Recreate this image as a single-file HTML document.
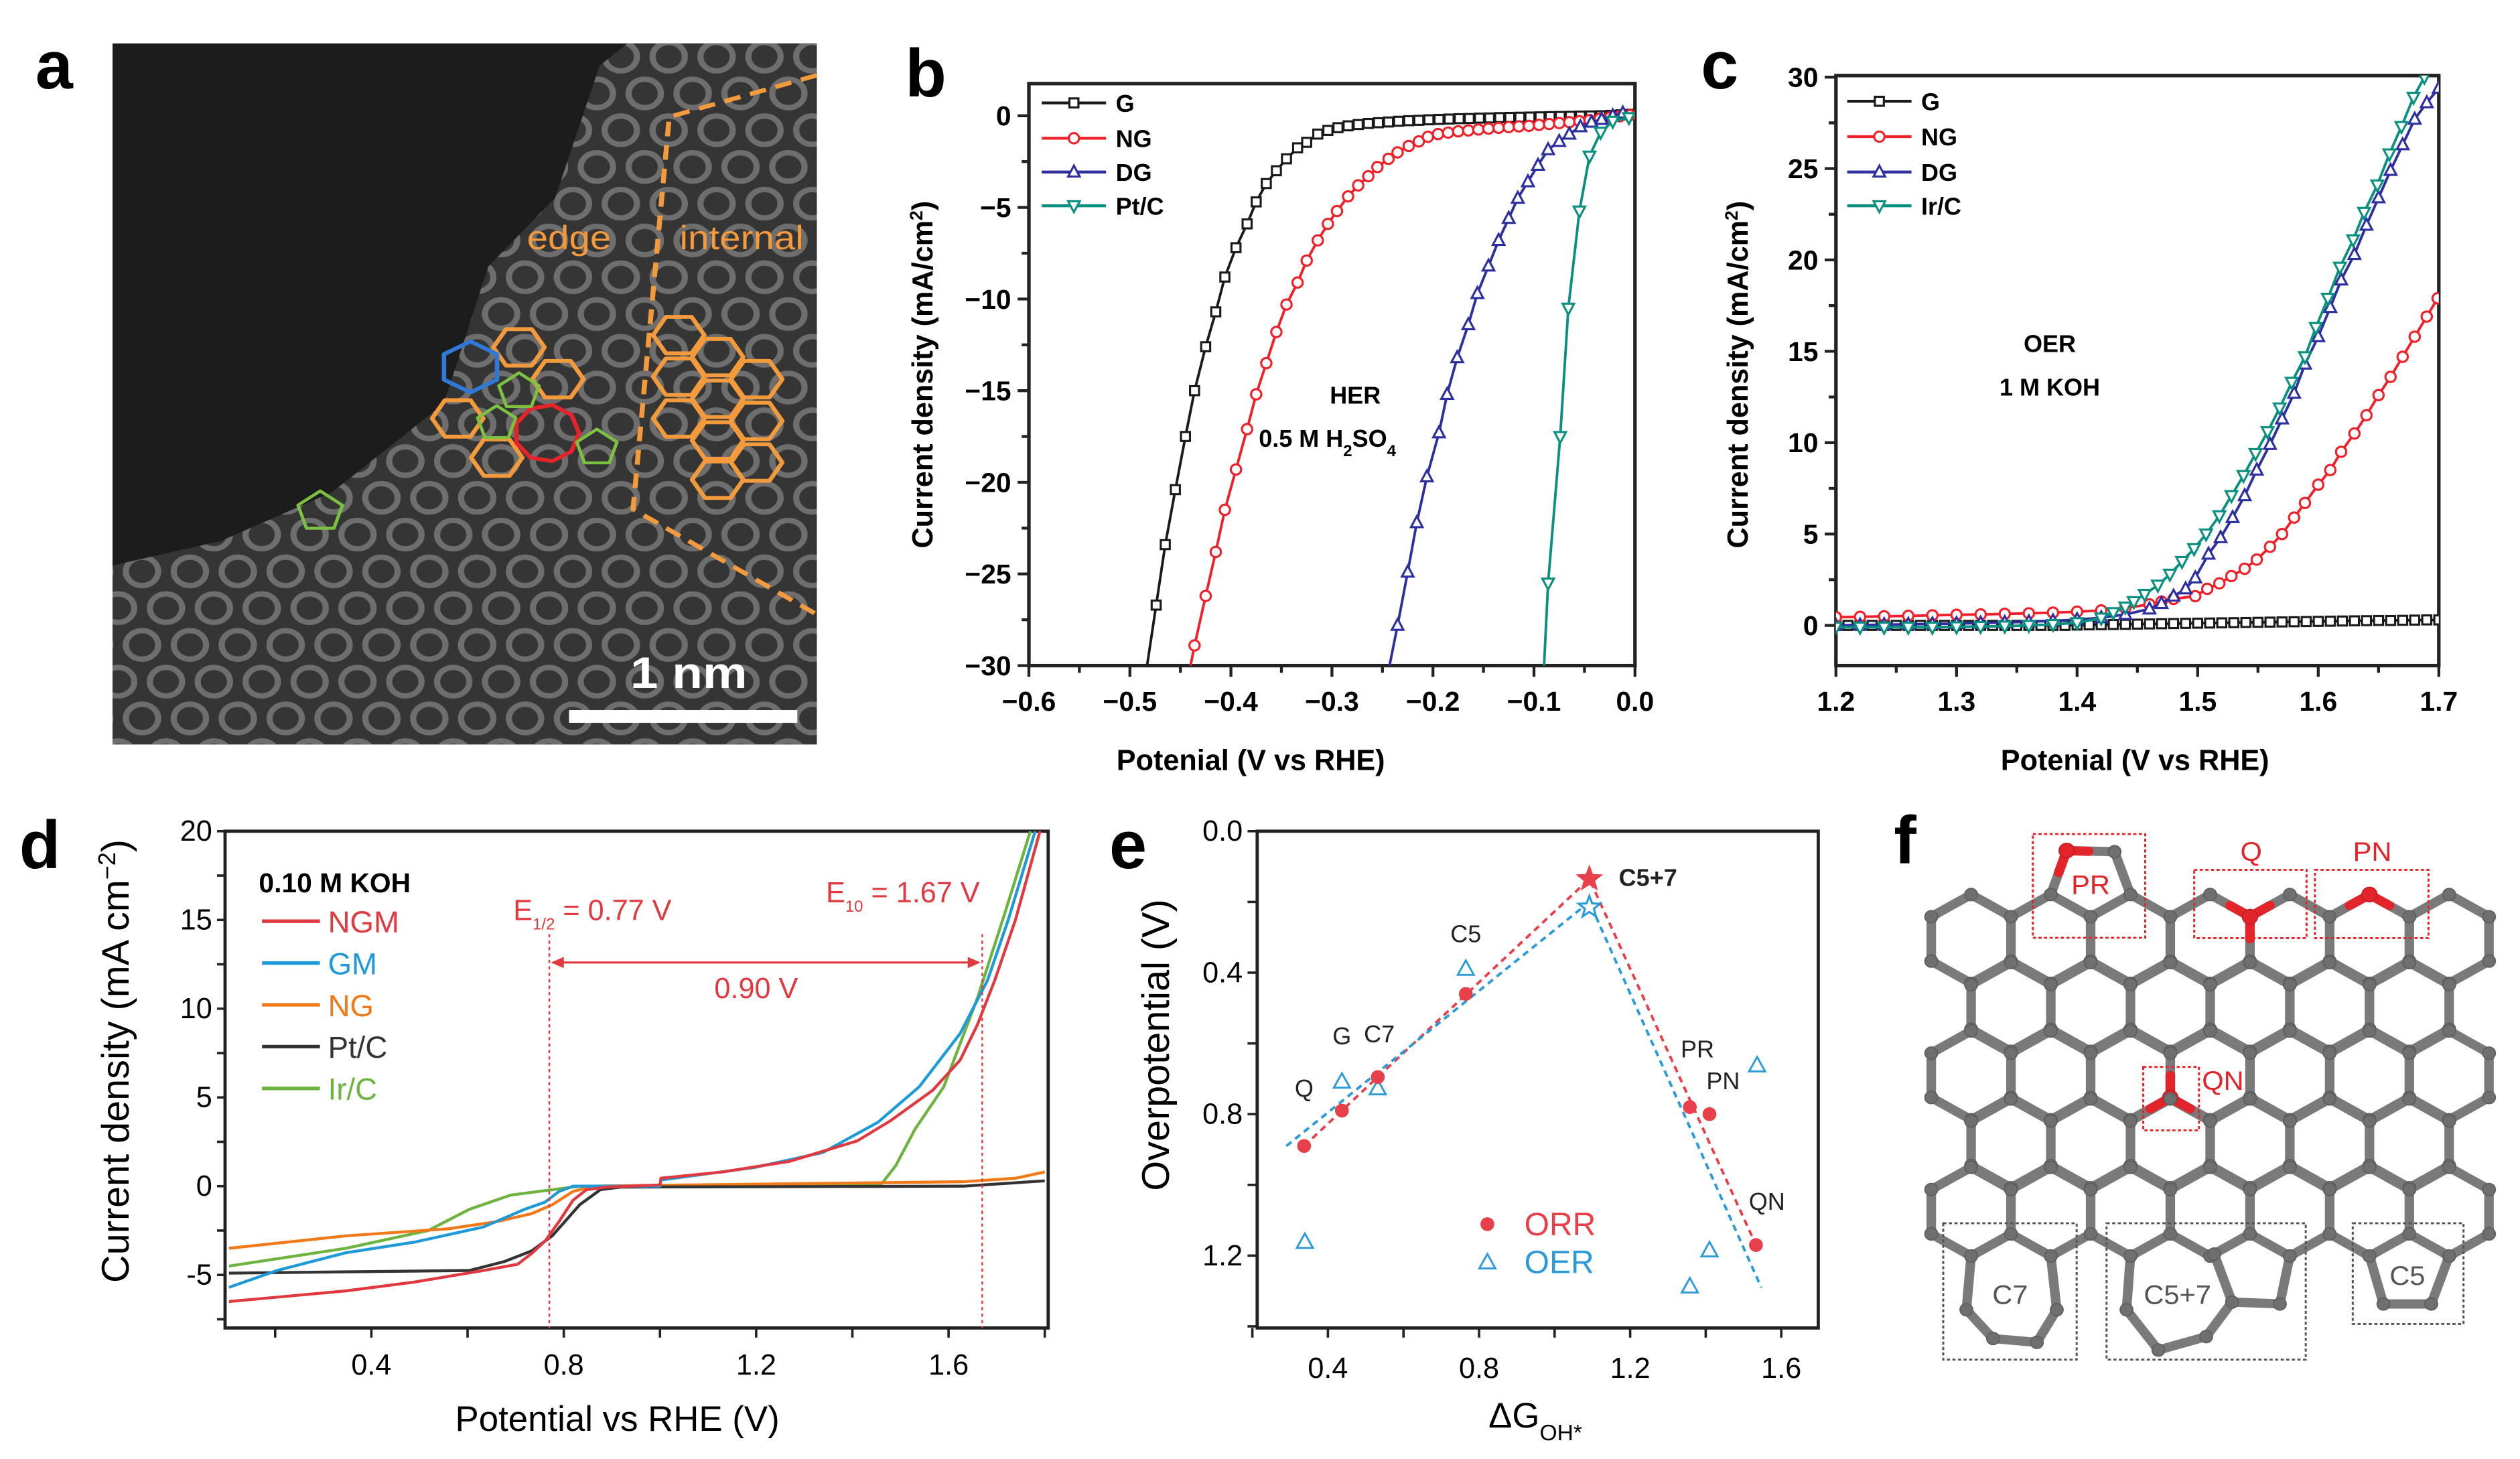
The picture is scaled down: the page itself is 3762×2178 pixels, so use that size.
<!DOCTYPE html>
<html><head><meta charset="utf-8"><title>Figure</title>
<style>
html,body{margin:0;padding:0;background:#fff;}
svg{display:block;}
text{font-family:"Liberation Sans",sans-serif;}
.bold{font-weight:bold;}
.nar{font-family:"Liberation Sans Narrow","Liberation Sans",sans-serif;}
</style></head>
<body>
<svg id="fig" xmlns="http://www.w3.org/2000/svg" width="3762" height="2178" viewBox="0 0 1567.5 907.5">
<defs>
<pattern id="lat" patternUnits="userSpaceOnUse" width="86" height="150">
<circle cx="43" cy="37" r="29" fill="none" stroke="#8e8e8e" stroke-width="11" opacity="0.65"/>
<circle cx="0" cy="112" r="29" fill="none" stroke="#8e8e8e" stroke-width="11" opacity="0.65"/>
<circle cx="86" cy="112" r="29" fill="none" stroke="#8e8e8e" stroke-width="11" opacity="0.65"/>
</pattern>
<clipPath id="clipb"><rect x="640" y="52" width="377" height="362"/></clipPath>
<clipPath id="clipc"><rect x="1142" y="47" width="375" height="367"/></clipPath>
<clipPath id="clipd"><rect x="140" y="517" width="512" height="309"/></clipPath>
</defs>

<!-- Panel a -->
<text x="22" y="55" font-size="42" class="bold">a</text>
<g transform="translate(-1.0,1.09) scale(0.3463,0.3049)">
<rect x="205" y="85" width="1265" height="1430" fill="#1c1c1c"/>
<polygon points="205,1150 400,1100 600,1000 800,820 880,540 1000,400 1080,130 1130,85 1470,85 1470,1515 205,1515" fill="#353535"/>
<polygon points="205,1150 400,1100 600,1000 800,820 880,540 1000,400 1080,130 1130,85 1470,85 1470,1515 205,1515" fill="url(#lat)"/>
<polyline points="1470,150 1205,235 1140,1035 1470,1250" fill="none" stroke="#f39a3c" stroke-width="9" stroke-dasharray="30,18"/>
<g id="ahex"></g>
<text x="1025" y="505" font-size="68" fill="#f39a3c" text-anchor="middle">edge</text>
<text x="1335" y="505" font-size="68" fill="#f39a3c" text-anchor="middle">internal</text>
<rect x="1025" y="1445" width="410" height="26" fill="#fff"/>
<text x="1240" y="1400" font-size="90" fill="#fff" class="bold" text-anchor="middle">1 nm</text>
</g>

<!-- Panel b -->
<text x="563" y="60" font-size="42" class="bold">b</text>
<g id="pb"></g>
<text x="778" y="479" font-size="18" class="bold" text-anchor="middle">Potenial (V vs RHE)</text>
<text transform="translate(580,233) rotate(-90)" font-size="18" class="bold" text-anchor="middle">Current density (mA/cm<tspan baseline-shift="super" font-size="11">2</tspan>)</text>
<text x="843" y="251" font-size="15" class="bold" text-anchor="middle">HER</text>
<text x="783" y="278" font-size="15" class="bold">0.5 M H<tspan baseline-shift="sub" font-size="10">2</tspan>SO<tspan baseline-shift="sub" font-size="10">4</tspan></text>

<!-- Panel c -->
<text x="1058" y="55" font-size="42" class="bold">c</text>
<g id="pc"></g>
<text x="1328" y="479" font-size="18" class="bold" text-anchor="middle">Potenial (V vs RHE)</text>
<text transform="translate(1087,233) rotate(-90)" font-size="18" class="bold" text-anchor="middle">Current density (mA/cm<tspan baseline-shift="super" font-size="11">2</tspan>)</text>
<text x="1275" y="219" font-size="15" class="bold" text-anchor="middle">OER</text>
<text x="1275" y="246" font-size="15" class="bold" text-anchor="middle">1 M KOH</text>

<!-- Panel d -->
<text x="12" y="540" font-size="42" class="bold">d</text>
<g id="pd"></g>
<text x="384" y="890" font-size="22" class="nar" text-anchor="middle">Potential vs RHE (V)</text>
<text transform="translate(80,660) rotate(-90)" font-size="24" class="nar" text-anchor="middle">Current density (mA cm<tspan baseline-shift="super" font-size="15">−2</tspan>)</text>

<!-- Panel e -->
<text x="690" y="540" font-size="42" class="bold">e</text>
<g id="pe"></g>
<text x="955" y="888" font-size="22" class="nar" text-anchor="middle">ΔG<tspan baseline-shift="sub" font-size="14">OH*</tspan></text>
<text transform="translate(727,650) rotate(-90)" font-size="24" class="nar" text-anchor="middle">Overpotential (V)</text>

<!-- Panel f -->
<text x="1178" y="537" font-size="42" class="bold">f</text>
<g id="pf" transform="translate(1179,492) scale(0.2478,0.239)"></g>
</svg>

<script>
const NS='http://www.w3.org/2000/svg';
function mk(parent,tag,attrs){const e=document.createElementNS(NS,tag);for(const k in attrs)e.setAttribute(k,attrs[k]);parent.appendChild(e);return e;}
function tx(parent,x,y,str,attrs){const e=mk(parent,'text',Object.assign({x:x,y:y},attrs));e.textContent=str;return e;}

/* ===== Panel b data (HER) ===== */
const bG_x=[-0.483,-0.474,-0.465,-0.455,-0.445,-0.436,-0.425,-0.415,-0.406,-0.395,-0.384,-0.375,-0.365,-0.355,-0.345,-0.334,-0.325,-0.314,-0.304,-0.294,-0.284,-0.274,-0.264,-0.254,-0.244,-0.234,-0.224,-0.214,-0.204,-0.194,-0.184,-0.174,-0.164,-0.154,-0.144,-0.134,-0.124,-0.114,-0.104,-0.094,-0.084,-0.074,-0.064,-0.054,-0.044,-0.034,-0.024,-0.014,-0.004];
const bG_y=[-30,-26.7,-23.4,-20.4,-17.5,-15.0,-12.6,-10.7,-8.8,-7.2,-5.9,-4.7,-3.7,-3.0,-2.35,-1.75,-1.45,-1.0,-0.8,-0.65,-0.55,-0.48,-0.42,-0.38,-0.34,-0.3,-0.27,-0.25,-0.22,-0.2,-0.18,-0.16,-0.15,-0.13,-0.12,-0.1,-0.09,-0.08,-0.07,-0.06,-0.05,-0.04,-0.03,-0.02,-0.01,0.0,0.02,0.05,0.08];
const bNG_x=[-0.44,-0.436,-0.425,-0.415,-0.406,-0.395,-0.384,-0.375,-0.365,-0.355,-0.345,-0.334,-0.325,-0.314,-0.304,-0.295,-0.284,-0.274,-0.264,-0.255,-0.244,-0.235,-0.224,-0.214,-0.205,-0.195,-0.185,-0.175,-0.165,-0.155,-0.145,-0.135,-0.125,-0.115,-0.105,-0.095,-0.085,-0.075,-0.065,-0.055,-0.045,-0.035,-0.025,-0.015,-0.005];
const bNG_y=[-30,-28.9,-26.2,-23.8,-21.5,-19.3,-17.1,-15.2,-13.5,-11.8,-10.3,-9.1,-7.9,-6.8,-5.9,-5.2,-4.4,-3.8,-3.3,-2.8,-2.35,-2.0,-1.65,-1.4,-1.15,-1.0,-0.92,-0.85,-0.8,-0.75,-0.7,-0.66,-0.62,-0.58,-0.55,-0.5,-0.45,-0.4,-0.35,-0.3,-0.24,-0.17,-0.1,-0.03,0.03];
const bDG_x=[-0.243,-0.235,-0.225,-0.216,-0.206,-0.194,-0.186,-0.176,-0.165,-0.156,-0.145,-0.135,-0.125,-0.116,-0.106,-0.096,-0.086,-0.075,-0.065,-0.054,-0.043,-0.033,-0.022,-0.012];
const bDG_y=[-30,-27.8,-24.9,-22.2,-19.7,-17.3,-15.2,-13.2,-11.4,-9.7,-8.2,-6.8,-5.6,-4.5,-3.6,-2.7,-1.85,-1.4,-1.0,-0.6,-0.35,-0.2,0.0,0.15];
const bPt_x=[-0.09,-0.086,-0.074,-0.066,-0.055,-0.045,-0.034,-0.022,-0.006];
const bPt_y=[-30,-25.5,-17.5,-10.5,-5.2,-2.2,-0.9,-0.3,-0.1];
const bXTicks=[-0.6,-0.5,-0.4,-0.3,-0.2,-0.1,0.0];
const bXTickLabels=['−0.6','−0.5','−0.4','−0.3','−0.2','−0.1','0.0'];
const bYTicks=[0,-5,-10,-15,-20,-25,-30];
const bYTickLabels=['0','−5','−10','−15','−20','−25','−30'];
const bLegend=['G','NG','DG','Pt/C'];

/* ===== Panel c data (OER) ===== */
const cG_x=[1.20,1.21,1.22,1.23,1.24,1.25,1.26,1.27,1.28,1.29,1.30,1.31,1.32,1.33,1.34,1.35,1.36,1.37,1.38,1.39,1.40,1.41,1.42,1.43,1.44,1.45,1.46,1.47,1.48,1.49,1.50,1.51,1.52,1.53,1.54,1.55,1.56,1.57,1.58,1.59,1.60,1.61,1.62,1.63,1.64,1.65,1.66,1.67,1.68,1.69,1.70];
const cG_y=[0,0,0,0,0,0,0,0,0,0,0,0,0,0,0,0,0,0,0,0,0.02,0.03,0.04,0.05,0.06,0.07,0.08,0.09,0.1,0.11,0.12,0.13,0.14,0.15,0.16,0.17,0.18,0.19,0.2,0.21,0.22,0.23,0.24,0.25,0.26,0.27,0.27,0.28,0.29,0.3,0.3];
const cNG_x=[1.20,1.22,1.24,1.26,1.28,1.30,1.32,1.34,1.36,1.38,1.40,1.42,1.44,1.46,1.47,1.48,1.498,1.508,1.518,1.528,1.539,1.549,1.560,1.570,1.580,1.589,1.600,1.610,1.619,1.630,1.640,1.650,1.660,1.670,1.680,1.690,1.699];
const cNG_y=[0.45,0.47,0.5,0.52,0.55,0.58,0.6,0.63,0.66,0.7,0.75,0.82,0.95,1.15,1.3,1.45,1.6,2.0,2.3,2.7,3.1,3.6,4.3,5.0,5.9,6.7,7.7,8.5,9.5,10.5,11.5,12.6,13.6,14.7,15.8,16.9,17.9];
const cDG_x=[1.20,1.22,1.24,1.26,1.28,1.30,1.32,1.34,1.36,1.38,1.40,1.42,1.44,1.46,1.47,1.48,1.49,1.498,1.509,1.519,1.529,1.539,1.549,1.560,1.570,1.580,1.589,1.600,1.610,1.619,1.630,1.640,1.650,1.660,1.670,1.680,1.690,1.700];
const cDG_y=[0.0,0.02,0.04,0.06,0.08,0.1,0.13,0.16,0.2,0.25,0.32,0.42,0.6,0.9,1.2,1.6,2.0,2.6,3.9,4.8,5.9,7.1,8.5,9.9,11.3,12.7,14.3,15.8,17.4,18.9,20.3,21.9,23.4,24.9,26.3,27.7,28.6,29.4];
const cIr_x=[1.20,1.22,1.24,1.26,1.28,1.30,1.32,1.34,1.36,1.38,1.40,1.42,1.43,1.44,1.447,1.456,1.467,1.477,1.487,1.497,1.507,1.518,1.528,1.538,1.548,1.558,1.568,1.578,1.589,1.598,1.608,1.618,1.629,1.638,1.649,1.659,1.669,1.679,1.688,1.70];
const cIr_y=[-0.1,-0.1,-0.1,-0.1,-0.1,-0.08,-0.06,-0.04,0.0,0.05,0.15,0.4,0.7,1.0,1.3,1.7,2.2,2.8,3.5,4.2,5.0,6.0,7.1,8.2,9.4,10.6,11.9,13.3,14.7,16.3,17.9,19.6,21.1,22.6,24.1,25.8,27.3,28.9,30.0,31.5];
const cXTicks=[1.2,1.3,1.4,1.5,1.6,1.7];
const cXTickLabels=['1.2','1.3','1.4','1.5','1.6','1.7'];
const cYTicks=[0,5,10,15,20,25,30];
const cYTickLabels=['0','5','10','15','20','25','30'];
const cLegend=['G','NG','DG','Ir/C'];

/* ===== Panel d data ===== */
const dNGM_x=[0.104,0.347,0.49,0.633,0.704,0.733,0.761,0.79,0.819,0.847,0.89,1.0,1.002,1.13,1.27,1.41,1.48,1.567,1.624,1.66,1.696,1.739,1.79];
const dNGM_y=[-6.5,-5.9,-5.4,-4.75,-4.4,-3.8,-3.1,-2.0,-0.8,-0.2,-0.05,0.07,0.45,0.8,1.4,2.55,3.7,5.4,7.1,9.1,11.6,15.0,20];
const dGM_x=[0.104,0.204,0.347,0.49,0.633,0.719,0.761,0.79,0.819,1.0,1.002,1.196,1.339,1.453,1.539,1.624,1.681,1.724,1.78];
const dGM_y=[-5.7,-4.75,-3.75,-3.15,-2.3,-1.3,-0.9,-0.3,0,0,0.35,1.05,1.9,3.6,5.6,8.6,11.6,15.0,20];
const dNG_x=[0.104,0.347,0.56,0.66,0.733,0.776,0.819,0.86,1.06,1.63,1.74,1.80];
const dNG_y=[-3.5,-2.8,-2.4,-2.0,-1.55,-1.05,-0.3,0,0.07,0.25,0.45,0.8];
const dPt_x=[0.104,0.604,0.676,0.733,0.776,0.833,0.876,0.919,1.63,1.80];
const dPt_y=[-4.9,-4.75,-4.25,-3.65,-2.8,-1.05,-0.2,-0.05,0.0,0.3];
const dIr_x=[0.104,0.347,0.518,0.604,0.69,0.776,0.833,1.46,1.49,1.53,1.59,1.66,1.716,1.77];
const dIr_y=[-4.5,-3.5,-2.5,-1.3,-0.5,-0.2,0,0.1,1.15,3.2,5.6,10.6,15.3,20];
const dE12=0.77, dE10=1.67, dArrowY=12.6;
const dXTicks=[0.4,0.8,1.2,1.6];
const dXTickLabels=['0.4','0.8','1.2','1.6'];
const dYTicks=[20,15,10,5,0,-5];
const dYTickLabels=['20','15','10','5','0','-5'];
const dLegend=['NGM','GM','NG','Pt/C','Ir/C'];

/* ===== Panel e data ===== */
const eSites=['Q','G','C7','C5','C5+7','PR','PN','QN'];
const eDG=[0.337,0.437,0.532,0.765,1.092,1.358,1.41,1.533];
const eORR=[0.89,0.79,0.695,0.46,0.135,0.78,0.80,1.17];
const eOERdG=[0.339,0.437,0.532,0.765,1.092,1.358,1.41,1.536];
const eOER=[1.16,0.707,0.726,0.388,0.215,1.286,1.184,0.661];
const eORRfit_x=[0.337,1.092,1.533];
const eORRfit_y=[0.89,0.135,1.17];
const eOERfit_x=[0.29,1.092,1.547];
const eOERfit_y=[0.89,0.2,1.29];
const eXTicks=[0.4,0.8,1.2,1.6];
const eXTickLabels=['0.4','0.8','1.2','1.6'];
const eYTicks=[0.0,0.4,0.8,1.2];
const eYTickLabels=['0.0','0.4','0.8','1.2'];

/* ===== axis functions ===== */
const bx=v=>640+(v+0.6)/0.6*377, by=v=>72-v/30*342;
const cx=v=>1142+(v-1.2)/0.5*375, cy=v=>389-v/30*341;
const dx=v=>231+(v-0.4)*299.2, dy=v=>517+(20-v)*11.04;
const ex=v=>826+(v-0.4)*235, ey=v=>517+v*220;

function marker(g,type,x,y,color){
  let e;
  if(type==='sq'){e=mk(g,'rect',{x:x-2.8,y:y-2.8,width:5.6,height:5.6,fill:'#fff',stroke:color,'stroke-width':1.3});}
  else if(type==='ci'){e=mk(g,'circle',{cx:x,cy:y,r:3.2,fill:'#fff',stroke:color,'stroke-width':1.3});}
  else if(type==='tu'){e=mk(g,'polygon',{points:`${x},${y-4} ${x-3.6},${y+2.8} ${x+3.6},${y+2.8}`,fill:'#fff',stroke:color,'stroke-width':1.3});}
  else {e=mk(g,'polygon',{points:`${x},${y+4} ${x-3.6},${y-2.8} ${x+3.6},${y-2.8}`,fill:'#fff',stroke:color,'stroke-width':1.3});}
  return e;
}
function drawSeries(g,xs,ys,fx,fy,color,type,clip,skipFirst){
  const pts=xs.map((v,i)=>fx(v).toFixed(2)+','+fy(ys[i]).toFixed(2)).join(' ');
  const gg=mk(g,'g',{'clip-path':'url(#'+clip+')'});
  
  
  const pl=mk(gg,'polyline',{points:pts,fill:'none',stroke:color,'stroke-width':type?1.6:1.8,'stroke-linejoin':'round'});
  
  
  if(type){xs.forEach((v,i)=>{if(skipFirst&&i===0)return;const m=marker(gg,type,fx(v),fy(ys[i]),color);
    
    
  });}
}
function frame(g,x0,y0,x1,y1,w){
  const r=mk(g,'rect',{x:x0,y:y0,width:x1-x0,height:y1-y0,fill:'none',stroke:'#222','stroke-width':w});
  
  
}

/* ===== Panel b ===== */
(function(){
const g=document.getElementById('pb');
frame(g,640,52,1017,414,2.2);
for(let v=-0.6;v<=0.0001;v+=0.05){const major=Math.abs(Math.round(v*10)-v*10)<1e-6;const t=mk(g,'line',{x1:bx(v),x2:bx(v),y1:414,y2:414+(major?7:4.5),stroke:'#222','stroke-width':1.8});
  
  }
bXTicks.forEach((v,i)=>{const t=tx(g,bx(v),442,bXTickLabels[i],{'font-size':17,'font-weight':'bold','text-anchor':'middle'});
  
  });
for(let v=0;v>=-30;v-=2.5){const major=v%5===0;const t=mk(g,'line',{x1:640,x2:640-(major?7:4.5),y1:by(v),y2:by(v),stroke:'#222','stroke-width':1.8});
  
  }
bYTicks.forEach((v,i)=>{const t=tx(g,629,by(v)+6,bYTickLabels[i],{'font-size':17,'font-weight':'bold','text-anchor':'end'});
  
  });
drawSeries(g,bG_x,bG_y,bx,by,'#1a1a1a','sq','clipb',true);
drawSeries(g,bNG_x,bNG_y,bx,by,'#f0202a','ci','clipb',true);
drawSeries(g,bDG_x,bDG_y,bx,by,'#2d2f9e','tu','clipb',true);
drawSeries(g,bPt_x,bPt_y,bx,by,'#0a9080','td','clipb',true);
const cols=['#1a1a1a','#f0202a','#2d2f9e','#0a9080'],types=['sq','ci','tu','td'],ly=[64,86,107,128];
bLegend.forEach((n,i)=>{const l=mk(g,'line',{x1:648,x2:688,y1:ly[i],y2:ly[i],stroke:cols[i],'stroke-width':1.8});
  
  
  const m=marker(g,types[i],668,ly[i],cols[i]);
  
  
  const t=tx(g,694,ly[i]+5.5,n,{'font-size':15,'font-weight':'bold'});
  
  });
})();

/* ===== Panel c ===== */
(function(){
const g=document.getElementById('pc');
frame(g,1142,47,1517,414,2.2);
for(let v=1.2;v<=1.7001;v+=0.05){const major=Math.abs(Math.round(v*10)-v*10)<1e-6;const t=mk(g,'line',{x1:cx(v),x2:cx(v),y1:414,y2:414+(major?7:4.5),stroke:'#222','stroke-width':1.8});
  
  }
cXTicks.forEach((v,i)=>{const t=tx(g,cx(v),442,cXTickLabels[i],{'font-size':17,'font-weight':'bold','text-anchor':'middle'});
  
  });
for(let v=0;v<=30;v+=2.5){const major=v%5===0;const t=mk(g,'line',{x1:1142,x2:1142-(major?7:4.5),y1:cy(v),y2:cy(v),stroke:'#222','stroke-width':1.8});
  
  }
cYTicks.forEach((v,i)=>{const t=tx(g,1131,cy(v)+6,cYTickLabels[i],{'font-size':17,'font-weight':'bold','text-anchor':'end'});
  
  });
drawSeries(g,cG_x,cG_y,cx,cy,'#1a1a1a','sq','clipc',false);
drawSeries(g,cNG_x,cNG_y,cx,cy,'#f0202a','ci','clipc',false);
drawSeries(g,cDG_x,cDG_y,cx,cy,'#2d2f9e','tu','clipc',false);
drawSeries(g,cIr_x,cIr_y,cx,cy,'#0a9080','td','clipc',false);
const cols=['#1a1a1a','#f0202a','#2d2f9e','#0a9080'],types=['sq','ci','tu','td'],ly=[63,85,107,128];
cLegend.forEach((n,i)=>{const l=mk(g,'line',{x1:1149,x2:1189,y1:ly[i],y2:ly[i],stroke:cols[i],'stroke-width':1.8});
  
  
  const m=marker(g,types[i],1169,ly[i],cols[i]);
  
  
  const t=tx(g,1195,ly[i]+5.5,n,{'font-size':15,'font-weight':'bold'});
  
  });
})();

/* ===== Panel d ===== */
(function(){
const g=document.getElementById('pd');
frame(g,140,517,652,826,2);
for(let v=0.2;v<=1.8001;v+=0.2){const t=mk(g,'line',{x1:dx(v),x2:dx(v),y1:826,y2:832,stroke:'#222','stroke-width':1.5});
  
  }
dXTicks.forEach((v,i)=>{const t=tx(g,dx(v),855,dXTickLabels[i],{'font-size':18,'text-anchor':'middle','class':'nar'});
  
  });
for(let v=-7.5;v<=20;v+=2.5){const t=mk(g,'line',{x1:140,x2:135,y1:dy(v),y2:dy(v),stroke:'#222','stroke-width':1.5});
  
  }
dYTicks.forEach((v,i)=>{const t=tx(g,132,dy(v)+6,dYTickLabels[i],{'font-size':18,'text-anchor':'end','class':'nar'});
  
  });
const cols=['#e0393f','#1f9ad8','#f07a1a','#333333','#6db33f'];
drawSeries(g,dIr_x,dIr_y,dx,dy,cols[4],null,'clipd');
drawSeries(g,dNG_x,dNG_y,dx,dy,cols[2],null,'clipd');
drawSeries(g,dPt_x,dPt_y,dx,dy,cols[3],null,'clipd');
drawSeries(g,dGM_x,dGM_y,dx,dy,cols[1],null,'clipd');
drawSeries(g,dNGM_x,dNGM_y,dx,dy,cols[0],null,'clipd');
[dE12,dE10].forEach(v=>{const l=mk(g,'line',{x1:dx(v),x2:dx(v),y1:dy(14.2),y2:826,stroke:'#e0393f','stroke-width':1,'stroke-dasharray':'2,2'});
  
  });
const ar=mk(g,'line',{x1:dx(dE12)+2,x2:dx(dE10)-2,y1:dy(dArrowY),y2:dy(dArrowY),stroke:'#e0393f','stroke-width':1.3});


const h1=mk(g,'polygon',{points:`${dx(dE12)+1},${dy(dArrowY)} ${dx(dE12)+9},${dy(dArrowY)-3.5} ${dx(dE12)+9},${dy(dArrowY)+3.5}`,fill:'#e0393f'});


const h2=mk(g,'polygon',{points:`${dx(dE10)-1},${dy(dArrowY)} ${dx(dE10)-9},${dy(dArrowY)-3.5} ${dx(dE10)-9},${dy(dArrowY)+3.5}`,fill:'#e0393f'});


const gap=tx(g,dx(1.2),dy(10.6),'0.90 V',{'font-size':18,fill:'#e0393f','text-anchor':'middle','class':'nar'});


const e1=mk(g,'text',{x:dx(0.695),y:dy(15.0),'font-size':18,fill:'#e0393f','class':'nar'});
e1.innerHTML='E<tspan baseline-shift="sub" font-size="10">1/2</tspan> = 0.77 V';


const e2=mk(g,'text',{x:dx(1.345),y:dy(16.0),'font-size':18,fill:'#e0393f','class':'nar'});
e2.innerHTML='E<tspan baseline-shift="sub" font-size="10">10</tspan> = 1.67 V';


const kt=tx(g,161,555,'0.10 M KOH',{'font-size':17,'font-weight':'bold'});


const ly=[573,599,625,651,677];
dLegend.forEach((n,i)=>{const l=mk(g,'line',{x1:163,x2:199,y1:ly[i],y2:ly[i],stroke:cols[i],'stroke-width':2.2});
  
  
  const t=tx(g,204,ly[i]+7,n,{'font-size':19,fill:i===3?'#333':cols[i],'class':'nar'});
  
  });
})();

/* ===== Panel e ===== */
(function(){
const g=document.getElementById('pe');
frame(g,782,517,1131,826,2);
for(let v=0.2;v<=1.6001;v+=0.2){const t=mk(g,'line',{x1:ex(v),x2:ex(v),y1:826,y2:832,stroke:'#222','stroke-width':1.5});
  
  }
eXTicks.forEach((v,i)=>{const t=tx(g,ex(v),857,eXTickLabels[i],{'font-size':18,'text-anchor':'middle','class':'nar'});
  
  });
for(let v=0;v<=1.4001;v+=0.2){const t=mk(g,'line',{x1:782,x2:776,y1:ey(v),y2:ey(v),stroke:'#222','stroke-width':1.5});
  
  }
eYTicks.forEach((v,i)=>{const t=tx(g,773,ey(v)+6,eYTickLabels[i],{'font-size':18,'text-anchor':'end','class':'nar'});
  
  });
const fr=mk(g,'polyline',{points:eORRfit_x.map((v,i)=>ex(v)+','+ey(eORRfit_y[i])).join(' '),fill:'none',stroke:'#e8404a','stroke-width':1.6,'stroke-dasharray':'4,3'});


const fo=mk(g,'polyline',{points:eOERfit_x.map((v,i)=>ex(v)+','+ey(eOERfit_y[i])).join(' '),fill:'none',stroke:'#2a9ad8','stroke-width':1.6,'stroke-dasharray':'4,3'});


function star(cxp,cyp,R,attrs){let p=[];for(let k=0;k<10;k++){const r=k%2?R*0.42:R,a=-Math.PI/2+k*Math.PI/5;p.push((cxp+r*Math.cos(a)).toFixed(2)+','+(cyp+r*Math.sin(a)).toFixed(2));}return mk(g,'polygon',Object.assign({points:p.join(' ')},attrs));}
eSites.forEach((s,i)=>{
  let o;
  if(s==='C5+7'){o=star(ex(eOERdG[i]),ey(eOER[i]),7,{fill:'#fff',stroke:'#2a9ad8','stroke-width':1.3});}
  else{const X=ex(eOERdG[i]),Y=ey(eOER[i]);o=mk(g,'polygon',{points:`${X},${Y-5} ${X-5},${Y+4} ${X+5},${Y+4}`,fill:'none',stroke:'#2a9ad8','stroke-width':1.2});}
  
  
  let r;
  if(s==='C5+7'){r=star(ex(eDG[i]),ey(eORR[i]),9,{fill:'#e8404a'});}
  else{r=mk(g,'circle',{cx:ex(eDG[i]),cy:ey(eORR[i]),r:4.3,fill:'#e8404a'});}
  
  
});
const lab=[[0.337,0.75],[0.437,0.603],[0.536,0.597],[0.765,0.314],[1.17,0.155],[1.378,0.64],[1.446,0.73],[1.562,1.07]];
eSites.forEach((s,i)=>{const t=tx(g,ex(lab[i][0]),ey(lab[i][1]),s,{'font-size':15,'text-anchor':s==='C5+7'?'start':'middle','font-weight':s==='C5+7'?'bold':'normal','fill':'#222','class':s==='C5+7'?'':'nar'});
  
  });
const ld=mk(g,'circle',{cx:ex(0.822),cy:ey(1.111),r:4.3,fill:'#e8404a'});


const lt=mk(g,'polygon',{points:`${ex(0.822)},${ey(1.218)-5} ${ex(0.822)-5},${ey(1.218)+4} ${ex(0.822)+5},${ey(1.218)+4}`,fill:'none',stroke:'#2a9ad8','stroke-width':1.2});


const l1=tx(g,ex(0.92),ey(1.111)+7,'ORR',{'font-size':20,fill:'#e8404a','class':'nar'});


const l2=tx(g,ex(0.92),ey(1.218)+7,'OER',{'font-size':20,fill:'#2a9ad8','class':'nar'});


})();

/* ===== Panel a ring annotations ===== */
(function(){
const g=document.getElementById('ahex');
function poly(cxp,cyp,n,rx,ry,rot,color,w){let p=[];for(let k=0;k<n;k++){const a=rot+k*2*Math.PI/n;p.push((cxp+rx*Math.cos(a)).toFixed(1)+','+(cyp+ry*Math.sin(a)).toFixed(1));}
  return mk(g,'polygon',{points:p.join(' '),fill:'none',stroke:color,'stroke-width':w,'stroke-linejoin':'round'});}
const cols=[[1222,680],[1222,765],[1222,850],[1292,725],[1292,810],[1292,895],[1292,975],[1362,770],[1362,855],[1362,940]];
cols.forEach(c=>{const h=poly(c[0],c[1],6,46,43,0,'#f39a3c',8);
  
  });
[[935,705],[1005,770],[825,850],[895,930]].forEach(c=>{const h=poly(c[0],c[1],6,46,43,0,'#f39a3c',8);
  
  });
const bh=poly(848,745,6,55,52,Math.PI/6,'#2f7ad8',8);


const rh=poly(985,880,9,58,58,0,'#e3242b',8);


[[935,795,38],[895,860,36],[1075,910,38],[578,1040,42]].forEach(c=>{const p=poly(c[0],c[1],5,c[2],c[2],-Math.PI/2,'#7cc142',6);
  
  });
})();

/* ===== Panel f (graphene model, drawn in local coordinates) ===== */
(function(){
const g=document.getElementById('pf');
const s=115.5, hw=100;
const rows=[{cy:385,cx:[190,390,590,790,990,1190,1390]},{cy:562,cx:[290,490,690,890,1090,1290]},{cy:740,cx:[190,390,590,790,990,1190,1390]},{cy:917,cx:[290,490,690,890,1090,1290]},{cy:1095,cx:[190,390,590,790,990,1190,1390]}];
const bonds=new Map(), atoms=new Map();
const key=(x,y)=>Math.round(x)+'_'+Math.round(y);
function addB(a,b){const k=[key(a[0],a[1]),key(b[0],b[1])].sort().join('|');bonds.set(k,[a,b]);atoms.set(key(a[0],a[1]),a);atoms.set(key(b[0],b[1]),b);}
rows.forEach(r=>r.cx.forEach(c=>{
  const v=[[c,r.cy-s],[c+hw,r.cy-s/2],[c+hw,r.cy+s/2],[c,r.cy+s],[c-hw,r.cy+s/2],[c-hw,r.cy-s/2]];
  for(let k=0;k<6;k++) addB(v[k],v[(k+1)%6]);
}));
const extra=[
 [[390,269.5],[430,155],[550,158],[590,269.5]],
 [[190,1210],[178,1350],[245,1425],[355,1435],[405,1350],[390,1210]],
 [[590,1210],[580,1350],[660,1455],[780,1420],[845,1330],[800,1205]],
 [[845,1330],[965,1335],[990,1210]],
 [[1190,1210],[1225,1335],[1345,1335],[1390,1210]]
];
extra.forEach(ch=>{for(let k=0;k<ch.length-1;k++)addB(ch[k],ch[k+1]);});
bonds.forEach(b=>{const l=mk(g,'line',{x1:b[0][0],y1:b[0][1],x2:b[1][0],y2:b[1][1],stroke:'#7a7a7a','stroke-width':24,'stroke-linecap':'round'});
  
  });
const red=[[430,155],[890,327.25],[1190,269.5],[690,797.75]];
[[[890,327],[840,298]],[[890,327],[940,298]],[[890,327],[890,385]],[[1190,270],[1140,298]],[[1190,270],[1240,298]],[[690,798],[690,740]],[[690,798],[640,827]],[[690,798],[740,827]],[[430,155],[485,157]],[[430,155],[410,212]]].forEach(b=>{const l=mk(g,'line',{x1:b[0][0],y1:b[0][1],x2:b[1][0],y2:b[1][1],stroke:'#e3242b','stroke-width':24,'stroke-linecap':'round'});
  
  });
atoms.forEach(a=>{const isRed=red.some(r=>Math.abs(r[0]-a[0])<3&&Math.abs(r[1]-a[1])<3);const c=mk(g,'circle',{cx:a[0],cy:a[1],r:isRed?19:16,fill:isRed?'#e3242b':'#6f6f6f',stroke:isRed?'#c41c22':'#5e5e5e','stroke-width':3});
  
  });
const boxes=[[345,112,282,270,'#e3242b'],[750,205,282,178,'#e3242b'],[1053,205,285,178,'#e3242b'],[622,718,140,165,'#e3242b'],[120,1125,335,355,'#555'],[530,1125,500,355,'#555'],[1148,1125,278,262,'#555']];
boxes.forEach(b=>{const r=mk(g,'rect',{x:b[0],y:b[1],width:b[2],height:b[3],fill:'none',stroke:b[4],'stroke-width':5,'stroke-dasharray':'8,6'});
  
  });
const labs=[['PR',490,268,'#e3242b'],['Q',893,182,'#e3242b'],['PN',1197,182,'#e3242b'],['QN',822,778,'#e3242b'],['C7',288,1335,'#555'],['C5+7',708,1335,'#555'],['C5',1285,1285,'#555']];
labs.forEach(l=>{const t=mk(g,'text',{x:l[1],y:l[2],'font-size':70,fill:l[3],'text-anchor':'middle','class':'nar'});t.textContent=l[0];
  
  });
})();
</script>
</body></html>
